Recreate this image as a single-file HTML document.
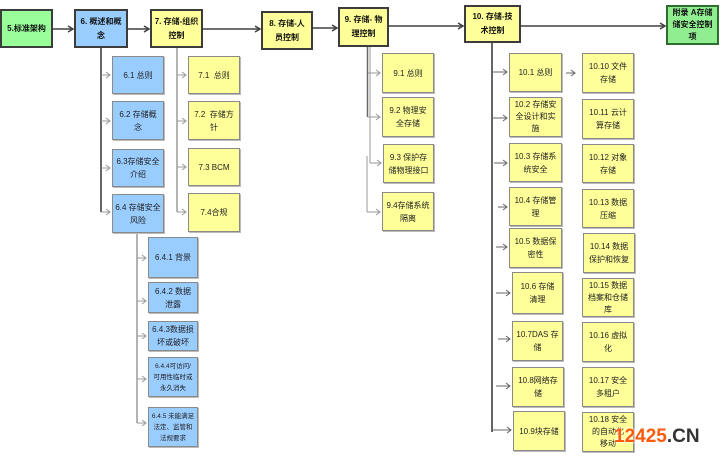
<!DOCTYPE html>
<html><head><meta charset="utf-8">
<style>
html,body{margin:0;padding:0;background:#fff;}
body{width:720px;height:459px;position:relative;overflow:hidden;font-family:"Liberation Sans","Noto Sans CJK SC",sans-serif;}
.b{position:absolute;box-sizing:border-box;display:flex;align-items:center;justify-content:center;text-align:center;font-size:8px;line-height:13px;color:#222;border:1px solid #8a8a8a;box-shadow:1px 1px 0 #bbb;}
.h{border:2px solid #3c3c3c;font-weight:bold;line-height:14px;box-shadow:none;color:#111;}
.g{background:#99ff99;}
.a{background:#90ee90;border-color:#2e6e2e;}
.u{background:#99ccff;}
.y{background:#ffff99;}
.s{font-size:6.5px;line-height:11px;}
svg{position:absolute;left:0;top:0;}
.wm{position:absolute;left:614px;top:426px;font-size:19px;font-weight:bold;font-family:"Liberation Sans",sans-serif;letter-spacing:0px;}
.wm .o{color:#ff5a0a;text-shadow:0 0 2px #fff,0 0 2px #fff;}
.wm .c{color:#333;}
</style></head><body>
<svg width="720" height="459" viewBox="0 0 720 459">
<g stroke="#404040" stroke-width="1.5" fill="none">
<line x1="53" y1="29" x2="73" y2="29"/><polyline points="68,26 73,29 68,32"/>
<line x1="128" y1="29" x2="149" y2="29"/><polyline points="144,26 149,29 144,32"/>
<line x1="203" y1="29" x2="260" y2="29"/><polyline points="255,26 260,29 255,32"/>
<line x1="313" y1="28" x2="337" y2="28"/><polyline points="332,25 337,28 332,31"/>
<line x1="389" y1="26" x2="463" y2="26"/><polyline points="458,23 463,26 458,29"/>
<line x1="521" y1="26" x2="665" y2="26"/><polyline points="660,23 665,26 660,29"/>
</g>
<g stroke="#666" stroke-width="2" fill="none">
<line x1="101" y1="48" x2="101" y2="212"/>
<line x1="492" y1="43" x2="492" y2="432"/>
</g>
<g stroke="#9a9a9a" stroke-width="1.5" fill="none">
<line x1="177" y1="48" x2="177" y2="212"/>
<line x1="137" y1="233" x2="137" y2="423"/>
</g>
<g fill="none">
<line x1="367.5" y1="47" x2="367.5" y2="117" stroke="#666" stroke-width="1.5"/>
<line x1="370" y1="47" x2="370" y2="163" stroke="#9a9a9a" stroke-width="1"/>
<line x1="367" y1="156" x2="367" y2="212" stroke="#9a9a9a" stroke-width="1"/>
</g>
<g stroke="#999" stroke-width="1" fill="none">
<!-- col 6 -->
<line x1="101" y1="75" x2="110" y2="75"/><polyline points="106,72 110,75 106,78"/>
<line x1="101" y1="121" x2="110" y2="121"/><polyline points="106,118 110,121 106,124"/>
<line x1="101" y1="168" x2="110" y2="168"/><polyline points="106,165 110,168 106,171"/>
<line x1="101" y1="212" x2="110" y2="212"/><polyline points="106,209 110,212 106,215"/>
<!-- col 7 -->
<line x1="177" y1="75" x2="186" y2="75"/><polyline points="182,72 186,75 182,78"/>
<line x1="177" y1="121" x2="186" y2="121"/><polyline points="182,118 186,121 182,124"/>
<line x1="177" y1="167" x2="186" y2="167"/><polyline points="182,164 186,167 182,170"/>
<line x1="177" y1="212" x2="186" y2="212"/><polyline points="182,209 186,212 182,215"/>
<!-- 6.4 -->
<line x1="137" y1="258" x2="146" y2="258"/><polyline points="142,255 146,258 142,261"/>
<line x1="137" y1="301" x2="146" y2="301"/><polyline points="142,298 146,301 142,304"/>
<line x1="137" y1="336" x2="146" y2="336"/><polyline points="142,333 146,336 142,339"/>
<line x1="137" y1="379" x2="146" y2="379"/><polyline points="142,376 146,379 142,382"/>
<line x1="137" y1="423" x2="146" y2="423"/><polyline points="142,420 146,423 142,426"/>
<!-- col 9 -->
<line x1="368" y1="73" x2="380" y2="73"/><polyline points="376,70 380,73 376,76"/>
<line x1="368" y1="117" x2="380" y2="117"/><polyline points="376,114 380,117 376,120"/>
<line x1="370" y1="163" x2="381" y2="163"/><polyline points="377,160 381,163 377,166"/>
<line x1="367" y1="212" x2="380" y2="212"/><polyline points="376,209 380,212 376,215"/>
</g>
<g stroke="#666" stroke-width="1" fill="none">
<line x1="492" y1="72" x2="507" y2="72"/><polyline points="503,69 507,72 503,75"/>
<line x1="492" y1="118" x2="507" y2="118"/><polyline points="503,115 507,118 503,121"/>
<line x1="494" y1="163" x2="507" y2="163"/><polyline points="503,160 507,163 503,166"/>
<line x1="498" y1="207" x2="507" y2="207"/><polyline points="503,204 507,207 503,210"/>
<line x1="496" y1="247" x2="507" y2="247"/><polyline points="503,244 507,247 503,250"/>
<line x1="496" y1="293" x2="510" y2="293"/><polyline points="506,290 510,293 506,296"/>
<line x1="498" y1="339" x2="510" y2="339"/><polyline points="506,336 510,339 506,342"/>
<line x1="496" y1="386" x2="510" y2="386"/><polyline points="506,383 510,386 506,389"/>
<line x1="492" y1="430" x2="511" y2="430"/><polyline points="507,427 511,430 507,433"/>
<line x1="566" y1="73" x2="575" y2="73"/><polyline points="571,70 575,73 571,76"/>
</g>
</svg>

<div class="b h g" style="left:0;top:9px;width:53px;height:39px;">5.标准架构</div>
<div class="b h u" style="left:74px;top:9px;width:54px;height:39px;">6. 概述和概<br>念</div>
<div class="b h y" style="left:150px;top:9px;width:53px;height:39px;">7. 存储-组织<br>控制</div>
<div class="b h y" style="left:261px;top:11px;width:52px;height:39px;">8. 存储-人<br>员控制</div>
<div class="b h y" style="left:338px;top:7px;width:51px;height:40px;">9. 存储- 物<br>理控制</div>
<div class="b h y" style="left:464px;top:5px;width:57px;height:38px;">10. 存储-技<br>术控制</div>
<div class="b h a" style="left:666px;top:5px;width:53px;height:40px;line-height:12px;">附录 A存储<br>储安全控制<br>项</div>

<div class="b u" style="left:112px;top:56px;width:52px;height:38px;">6.1 总则</div>
<div class="b u" style="left:112px;top:101px;width:52px;height:39px;">6.2 存储概<br>念</div>
<div class="b u" style="left:112px;top:149px;width:52px;height:38px;">6.3存储安全<br>介绍</div>
<div class="b u" style="left:112px;top:194px;width:52px;height:39px;">6.4 存储安全<br>风险</div>

<div class="b y" style="left:188px;top:56px;width:52px;height:38px;">7.1&nbsp; 总则</div>
<div class="b y" style="left:188px;top:101px;width:52px;height:39px;">7.2&nbsp; 存储方<br>针</div>
<div class="b y" style="left:188px;top:148px;width:52px;height:38px;">7.3 BCM</div>
<div class="b y" style="left:188px;top:193px;width:52px;height:39px;">7.4合规</div>

<div class="b u" style="left:148px;top:237px;width:50px;height:41px;">6.4.1 背景</div>
<div class="b u" style="left:148px;top:282px;width:50px;height:31px;">6.4.2 数据<br>泄露</div>
<div class="b u" style="left:148px;top:321px;width:50px;height:30px;">6.4.3数据损<br>坏或破坏</div>
<div class="b u s" style="left:148px;top:357px;width:50px;height:40px;">6.4.4可访问/<br>可用性临时或<br>永久消失</div>
<div class="b u s" style="left:148px;top:407px;width:50px;height:40px;">6.4.5 未能满足<br>法定、监管和<br>法规要求</div>

<div class="b y" style="left:382px;top:53px;width:52px;height:40px;">9.1 总则</div>
<div class="b y" style="left:382px;top:97px;width:52px;height:40px;">9.2 物理安<br>全存储</div>
<div class="b y" style="left:383px;top:144px;width:51px;height:39px;">9.3 保护存<br>储物理接口</div>
<div class="b y" style="left:382px;top:192px;width:52px;height:39px;">9.4存储系统<br>隔离</div>

<div class="b y" style="left:509px;top:53px;width:53px;height:39px;">10.1 总则</div>
<div class="b y" style="left:509px;top:97px;width:53px;height:40px;line-height:12px;">10.2 存储安<br>全设计和实<br>施</div>
<div class="b y" style="left:509px;top:143px;width:53px;height:39px;">10.3 存储系<br>统安全</div>
<div class="b y" style="left:509px;top:187px;width:53px;height:39px;">10.4 存储管<br>理</div>
<div class="b y" style="left:509px;top:228px;width:53px;height:40px;">10.5 数据保<br>密性</div>
<div class="b y" style="left:512px;top:272px;width:51px;height:42px;">10.6 存储<br>清理</div>
<div class="b y" style="left:512px;top:321px;width:51px;height:40px;">10.7DAS 存<br>储</div>
<div class="b y" style="left:512px;top:367px;width:52px;height:40px;">10.8网络存<br>储</div>
<div class="b y" style="left:513px;top:411px;width:52px;height:40px;">10.9块存储</div>

<div class="b y" style="left:582px;top:53px;width:52px;height:40px;">10.10 文件<br>存储</div>
<div class="b y" style="left:582px;top:99px;width:52px;height:40px;">10.11 云计<br>算存储</div>
<div class="b y" style="left:582px;top:144px;width:52px;height:39px;">10.12 对象<br>存储</div>
<div class="b y" style="left:582px;top:189px;width:52px;height:39px;">10.13 数据<br>压缩</div>
<div class="b y" style="left:583px;top:233px;width:52px;height:40px;">10.14 数据<br>保护和恢复</div>
<div class="b y" style="left:582px;top:278px;width:52px;height:39px;line-height:12px;">10.15 数据<br>档案和仓储<br>库</div>
<div class="b y" style="left:582px;top:322px;width:52px;height:40px;">10.16 虚拟<br>化</div>
<div class="b y" style="left:582px;top:367px;width:52px;height:40px;">10.17 安全<br>多租户</div>
<div class="b y" style="left:582px;top:412px;width:52px;height:40px;line-height:12px;">10.18 安全<br>的自动化<br>移动</div>

<div class="wm"><span class="o">12425</span><span class="c">.CN</span></div>
</body></html>
